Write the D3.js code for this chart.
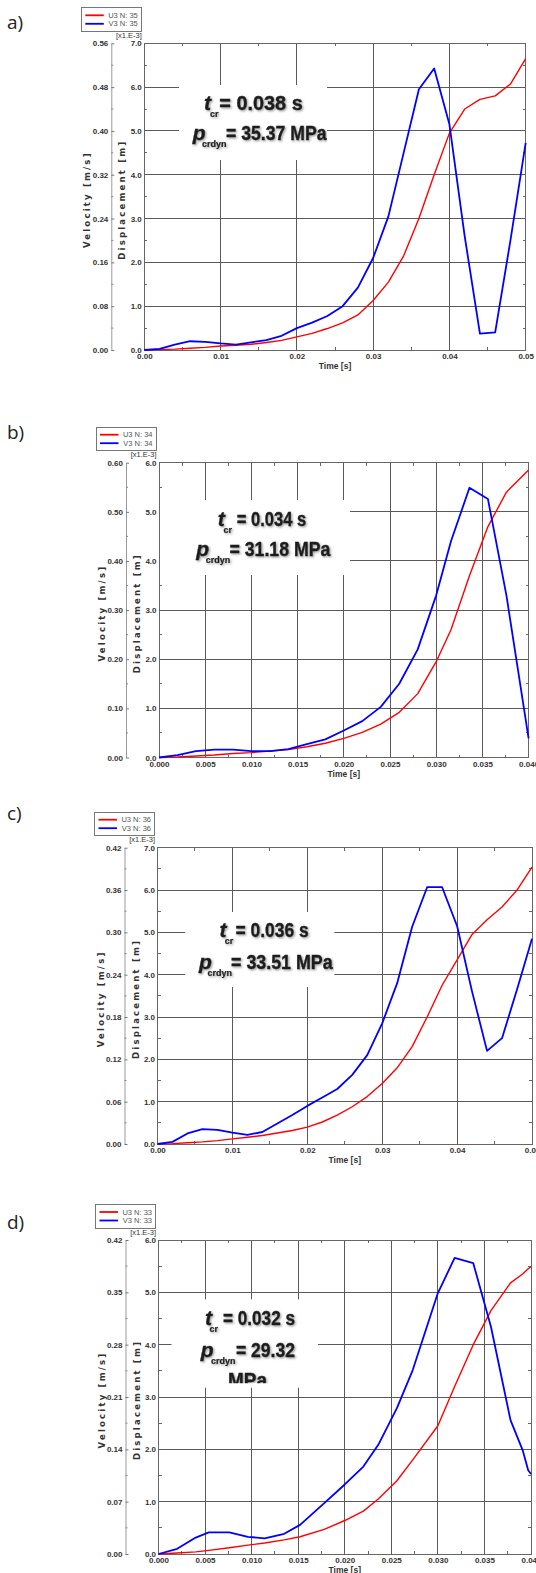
<!DOCTYPE html>
<html>
<head>
<meta charset="utf-8">
<script src="https://cdn.jsdelivr.net/npm/d3@7"></script>
<style>
  body { margin: 0; background: #fff; }
  svg { display: block; }
</style>
</head>
<body>
<svg id="chart" width="536" height="1573"></svg>
<script>
// ---------------- DATA ----------------
// a) node 35
const timeA = [0,0.002,0.004,0.006,0.008,0.010,0.012,0.014,0.016,0.018,0.020,0.022,0.024,0.026,0.028,0.030,0.032,0.034,0.036,0.038,0.040,0.042,0.044,0.046,0.048,0.050];
const dispA = [0,0.01,0.02,0.04,0.06,0.09,0.11,0.13,0.17,0.22,0.30,0.38,0.49,0.62,0.80,1.13,1.55,2.15,3.00,4.00,4.95,5.50,5.72,5.80,6.07,6.65]; // U3 [x1e-3 m]
const velA  = [0,0.002,0.010,0.016,0.015,0.012,0.010,0.014,0.018,0.026,0.040,0.050,0.062,0.080,0.114,0.168,0.244,0.360,0.476,0.514,0.412,0.208,0.030,0.032,0.200,0.378]; // V3 [m/s]
const timeTicksA = [0,0.01,0.02,0.03,0.04,0.05];
const dispTicksA = [0,1,2,3,4,5,6,7];
const velTicksA  = [0,0.08,0.16,0.24,0.32,0.40,0.48,0.56];

// b) node 34
const timeB = [0,0.002,0.004,0.006,0.008,0.010,0.012,0.014,0.016,0.018,0.020,0.022,0.024,0.026,0.028,0.030,0.0316,0.0336,0.0356,0.0376,0.040];
const dispB = [0,0.01,0.03,0.05,0.08,0.10,0.13,0.16,0.22,0.29,0.39,0.51,0.68,0.92,1.30,1.95,2.60,3.70,4.70,5.40,5.85];
const velB  = [0,0.005,0.013,0.016,0.016,0.013,0.013,0.017,0.027,0.037,0.055,0.074,0.103,0.150,0.220,0.330,0.440,0.549,0.526,0.330,0.039];
const timeTicksB = [0,0.005,0.010,0.015,0.020,0.025,0.030,0.035,0.040];
const dispTicksB = [0,1,2,3,4,5,6];
const velTicksB  = [0,0.10,0.20,0.30,0.40,0.50,0.60];

// c) node 36
const timeC = [0,0.002,0.004,0.006,0.008,0.010,0.012,0.014,0.016,0.018,0.020,0.022,0.024,0.026,0.028,0.030,0.032,0.034,0.036,0.038,0.040,0.042,0.044,0.046,0.048,0.050];
const dispC = [0,0.01,0.03,0.05,0.08,0.12,0.16,0.20,0.26,0.32,0.40,0.52,0.68,0.88,1.12,1.43,1.80,2.30,3.00,3.75,4.35,4.95,5.30,5.60,6.00,6.54];
const velC  = [0,0.003,0.015,0.021,0.020,0.016,0.013,0.017,0.029,0.041,0.054,0.066,0.078,0.098,0.126,0.171,0.228,0.308,0.364,0.364,0.309,0.216,0.132,0.150,0.219,0.291];
const timeTicksC = [0,0.01,0.02,0.03,0.04,0.05];
const dispTicksC = [0,1,2,3,4,5,6,7];
const velTicksC  = [0,0.06,0.12,0.18,0.24,0.30,0.36,0.42];

// d) node 33
const timeD = [0,0.002,0.004,0.0054,0.0076,0.0096,0.0114,0.0135,0.0152,0.0178,0.020,0.022,0.0236,0.0256,0.0273,0.030,0.0318,0.0338,0.0357,0.0378,0.0391,0.0397,0.040];
const dispD = [0,0.02,0.04,0.07,0.12,0.17,0.21,0.27,0.33,0.47,0.64,0.82,1.05,1.40,1.80,2.45,3.20,4.00,4.65,5.18,5.35,5.45,5.49];
const velD  = [0,0.007,0.022,0.029,0.029,0.023,0.021,0.027,0.039,0.068,0.093,0.117,0.146,0.195,0.246,0.349,0.396,0.389,0.304,0.179,0.139,0.112,0.107];
const timeTicksD = [0,0.005,0.010,0.015,0.020,0.025,0.030,0.035,0.040];
const dispTicksD = [0,1,2,3,4,5,6];
const velTicksD  = [0,0.07,0.14,0.21,0.28,0.35,0.42];

const panelLabels = ["a)","b)","c)","d)"];
const nodeIds = [35,34,36,33];
const critTimes = ["0.038","0.034","0.036","0.032"];
const critPress = ["35.37","31.18","33.51","29.32"];

// ---------------- LAYOUT ----------------
const NARROW = '"Liberation Sans Narrow","Arial Narrow","Liberation Sans",Arial,sans-serif';
const SANS = '"Liberation Sans",Arial,Helvetica,sans-serif';
const WIDE = '"DejaVu Sans",Verdana,sans-serif';

const panels = [
  { t:timeA, u:dispA, v:velA, tTicks:timeTicksA, dTicks:dispTicksA, vTicks:velTicksA, tFmt:".2f",
    x0:144.3, x1:525.7, yTop:43.3, yBot:350, labelY:29,
    box:{x:179,y:85,w:148,h:75}, clipH:75,
    rows:[{it:"t",itX:204,sub:"cr",subX:210,rest:"= "+critTimes[0]+" s",rx:219.3,rw:83.4,y:110},
          {it:"p",itX:192.7,sub:"crdyn",subX:202,rest:"= "+critPress[0]+" MPa",rx:226,rw:100.5,y:139.5}] },
  { t:timeB, u:dispB, v:velB, tTicks:timeTicksB, dTicks:dispTicksB, vTicks:velTicksB, tFmt:".3f",
    x0:159, x1:528.6, yTop:462.7, yBot:757.5, labelY:439,
    box:{x:160,y:500,w:190,h:75}, clipH:75,
    rows:[{it:"t",itX:217.8,sub:"cr",subX:223.5,rest:"= "+critTimes[1]+" s",rx:236.7,rw:69.6,y:526},
          {it:"p",itX:196.2,sub:"crdyn",subX:205.8,rest:"= "+critPress[1]+" MPa",rx:229.5,rw:100.8,y:555.7}] },
  { t:timeC, u:dispC, v:velC, tTicks:timeTicksC, dTicks:dispTicksC, vTicks:velTicksC, tFmt:".2f",
    x0:157.5, x1:532, yTop:847.7, yBot:1144, labelY:820,
    box:{x:185.2,y:912,w:149.2,h:75}, clipH:75,
    rows:[{it:"t",itX:219.5,sub:"cr",subX:224.7,rest:"= "+critTimes[2]+" s",rx:235.5,rw:73.2,y:937.3},
          {it:"p",itX:199,sub:"crdyn",subX:207.5,rest:"= "+critPress[2]+" MPa",rx:231,rw:101.7,y:969}] },
  { t:timeD, u:dispD, v:velD, tTicks:timeTicksD, dTicks:dispTicksD, vTicks:velTicksD, tFmt:".3f",
    x0:158.5, x1:531, yTop:1240, yBot:1554, labelY:1229,
    box:{x:171.5,y:1299.3,w:146.5,h:88.4}, clipH:84,
    rows:[{it:"t",itX:205.1,sub:"cr",subX:209.5,rest:"= "+critTimes[3]+" s",rx:223,rw:72,y:1325},
          {it:"p",itX:200.7,sub:"crdyn",subX:211,rest:"= "+critPress[3],rx:236,rw:59,y:1356.7},
          {rest:"MPa",rx:228,rw:39,y:1386.5}] }
];

// ---------------- DRAW ----------------
const svg = d3.select("#chart");
svg.append("rect").attr("width",536).attr("height",1573).attr("fill","#fff");
const defs = svg.append("defs");
const filt = defs.append("filter").attr("id","sh").attr("x","-10%").attr("y","-20%").attr("width","130%").attr("height","160%");
filt.append("feDropShadow").attr("dx",1.2).attr("dy",1.2).attr("stdDeviation",0.8)
    .attr("flood-color","#000").attr("flood-opacity",0.4);

function mids(arr){ const m=[]; for(let i=0;i<arr.length-1;i++) m.push((arr[i]+arr[i+1])/2); return m; }

panels.forEach((p, i) => {
  const g = svg.append("g");
  const x  = d3.scaleLinear().domain([0, d3.max(p.tTicks)]).range([p.x0, p.x1]);
  const yD = d3.scaleLinear().domain([0, d3.max(p.dTicks)]).range([p.yBot, p.yTop]);
  const yV = d3.scaleLinear().domain([0, d3.max(p.vTicks)]).range([p.yBot, p.yTop]);

  // panel label
  g.append("text").attr("x", 7).attr("y", p.labelY)
    .attr("font-family", '"Open Sans","Noto Sans",sans-serif').attr("font-size", 19)
    .attr("fill", "#222").text(panelLabels[i]);

  // grid lines
  const grid = g.append("g").attr("stroke", "#5a5a5a").attr("stroke-width", 1).attr("shape-rendering","crispEdges");
  grid.selectAll("line.v").data(p.tTicks.slice(1, -1)).join("line")
    .attr("x1", d => x(d)).attr("x2", d => x(d)).attr("y1", p.yTop).attr("y2", p.yBot);
  grid.selectAll("line.h").data(p.dTicks.slice(1, -1)).join("line")
    .attr("y1", d => yD(d)).attr("y2", d => yD(d)).attr("x1", p.x0).attr("x2", p.x1);

  // minor ticks on the frame
  const minor = g.append("g").attr("stroke", "#666").attr("stroke-width", 1).attr("shape-rendering","crispEdges");
  const tm = mids(p.tTicks), dm = mids(p.dTicks);
  tm.forEach(d => {
    minor.append("line").attr("x1", x(d)).attr("x2", x(d)).attr("y1", p.yTop).attr("y2", p.yTop + 3);
    minor.append("line").attr("x1", x(d)).attr("x2", x(d)).attr("y1", p.yBot).attr("y2", p.yBot - 3);
  });
  dm.forEach(d => {
    minor.append("line").attr("y1", yD(d)).attr("y2", yD(d)).attr("x1", p.x0).attr("x2", p.x0 + 3);
    minor.append("line").attr("y1", yD(d)).attr("y2", yD(d)).attr("x1", p.x1).attr("x2", p.x1 - 3);
  });

  // white text box
  g.append("rect").attr("x", p.box.x).attr("y", p.box.y).attr("width", p.box.w).attr("height", p.box.h).attr("fill", "#fff");

  // frame
  g.append("rect").attr("x", p.x0).attr("y", p.yTop).attr("width", p.x1 - p.x0).attr("height", p.yBot - p.yTop)
    .attr("fill", "none").attr("stroke", "#666").attr("stroke-width", 1).attr("shape-rendering","crispEdges");

  // curves
  const lineU = d3.line().x((d, k) => x(p.t[k])).y(d => yD(d));
  const lineV = d3.line().x((d, k) => x(p.t[k])).y(d => yV(d));
  g.append("path").datum(p.u).attr("d", lineU).attr("fill", "none").attr("stroke", "#ff0000")
    .attr("stroke-width", 1.4).attr("stroke-linejoin", "round");
  g.append("path").datum(p.v).attr("d", lineV).attr("fill", "none").attr("stroke", "#0000ff")
    .attr("stroke-width", 1.8).attr("stroke-linejoin", "round");

  // x axis labels
  const ax = g.append("g").attr("transform", `translate(0,${p.yBot})`)
    .call(d3.axisBottom(x).tickValues(p.tTicks).tickFormat(d3.format(p.tFmt)).tickSize(0).tickPadding(3.5));
  ax.select(".domain").remove();
  ax.attr("font-family", NARROW).attr("font-size", 8).attr("font-weight", "bold").attr("color", "#333");

  // displacement axis labels
  const ad = g.append("g").attr("transform", `translate(${p.x0},0)`)
    .call(d3.axisLeft(yD).tickValues(p.dTicks).tickFormat(d3.format(".1f")).tickSize(0).tickPadding(2.5));
  ad.select(".domain").remove();
  ad.attr("font-family", NARROW).attr("font-size", 8).attr("font-weight", "bold").attr("color", "#333");

  // velocity axis
  const vx = p.x0 - 33;
  const av = g.append("g").attr("transform", `translate(${vx},0)`)
    .call(d3.axisLeft(yV).tickValues(p.vTicks).tickFormat(d3.format(".2f")).tickSizeInner(-3).tickSizeOuter(0).tickPadding(3));
  av.attr("font-family", NARROW).attr("font-size", 8).attr("font-weight", "bold").attr("color", "#333");
  av.select(".domain").attr("stroke", "#9a9a9a");
  av.selectAll(".tick line").attr("stroke", "#777");
  const vm = mids(p.vTicks);
  av.selectAll("line.minor").data(vm).join("line").attr("class","minor")
    .attr("x1", 0).attr("x2", 2).attr("y1", d => yV(d)).attr("y2", d => yV(d)).attr("stroke", "#888");

  // scale note
  g.append("text").attr("x", p.x0 - 2.5).attr("y", p.yTop - 5.5).attr("text-anchor", "end")
    .attr("font-family", NARROW).attr("font-size", 7.5).attr("fill", "#333").text("[x1.E-3]");

  // axis titles
  const ymid = (p.yTop + p.yBot) / 2 + 3;
  [["Velocity [m/s]", p.x0 - 57], ["Displacement [m]", p.x0 - 22]].forEach(([txt, xx]) => {
    g.append("text").attr("transform", `translate(${xx + 3},${ymid}) rotate(-90)`)
      .attr("text-anchor", "middle").attr("font-family", WIDE).attr("font-weight", "bold")
      .attr("font-size", 8.5).attr("letter-spacing", 2.2).attr("fill", "#333").text(txt);
  });
  g.append("text").attr("x", (p.x0 + p.x1) / 2).attr("y", p.yBot + 19).attr("text-anchor", "middle")
    .attr("font-family", NARROW).attr("font-weight", "bold").attr("font-size", 8.5).attr("fill", "#333").text("Time [s]");

  // legend
  const lx = p.x0 - 63, ly = p.yTop - 35.5, lw = 60, lh = 23.5;
  const lg = g.append("g");
  lg.append("rect").attr("x", lx).attr("y", ly).attr("width", lw).attr("height", lh)
    .attr("fill", "#fff").attr("stroke", "#777").attr("stroke-width", 1).attr("shape-rendering","crispEdges");
  [["U3 N: " + nodeIds[i], "#ff0000", 7.5], ["V3 N: " + nodeIds[i], "#0000ff", 16]].forEach(([txt, col, dy]) => {
    lg.append("line").attr("x1", lx + 4).attr("x2", lx + 22.5).attr("y1", ly + dy).attr("y2", ly + dy)
      .attr("stroke", col).attr("stroke-width", 1.8);
    lg.append("text").attr("x", lx + lw - 3.5).attr("y", ly + dy + 2.6).attr("text-anchor", "end")
      .attr("font-family", NARROW).attr("font-size", 7.5).attr("fill", "#555").text(txt);
  });

  // annotation text (clipped to its box)
  defs.append("clipPath").attr("id", "clip" + i).append("rect")
    .attr("x", p.box.x).attr("y", p.box.y).attr("width", p.box.w).attr("height", p.clipH);
  const tg = g.append("g").attr("clip-path", `url(#clip${i})`).append("g").attr("filter", "url(#sh)")
    .attr("font-family", SANS).attr("font-weight", "bold").attr("fill", "#1e1e1e")
    .attr("stroke", "#1e1e1e").attr("stroke-width", 0.35);
  p.rows.forEach(r => {
    if (r.it) {
      tg.append("text").attr("x", r.itX).attr("y", r.y).attr("font-style", "italic").attr("font-size", 21).text(r.it);
      tg.append("text").attr("x", r.subX).attr("y", r.y + 7).attr("font-size", 9).attr("stroke-width", 0.2).text(r.sub);
    }
    tg.append("text").attr("x", r.rx).attr("y", r.y).attr("font-size", 19.5)
      .attr("textLength", r.rw).attr("lengthAdjust", "spacingAndGlyphs").text(r.rest);
  });
});
</script>
</body>
</html>
